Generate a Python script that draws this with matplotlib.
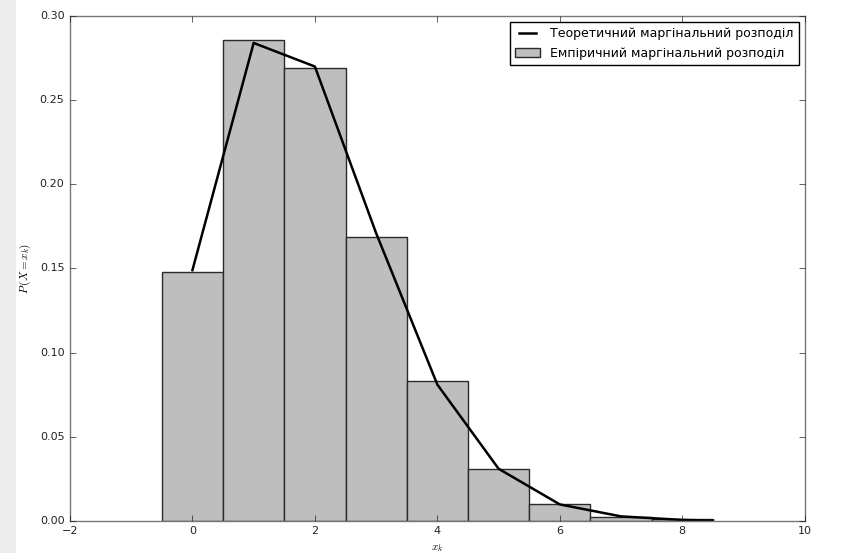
import matplotlib
matplotlib.use("Agg")
import matplotlib.pyplot as plt
from matplotlib.patches import Rectangle

plt.style.use('classic')

# емпіричний розподіл (гістограма)
emp_x = [0, 1, 2, 3, 4, 5, 6, 7, 8]
emp_p = [0.148, 0.286, 0.269, 0.169, 0.083, 0.031, 0.010, 0.0025, 0.001]

# теоретичний розподіл
theor_x = [0, 1, 2, 3, 4, 5, 6, 7, 8, 8.5]
theor_p = [0.149, 0.284, 0.270, 0.171, 0.081, 0.031, 0.0098, 0.0027, 0.0006, 0.0002]

fig = plt.figure(figsize=(8.48, 5.53), dpi=100, facecolor='white')
# сіра смуга зліва, як на скріншоті
fig.patches.append(Rectangle((0, 0), 16 / 848, 1, transform=fig.transFigure,
                             facecolor='#ececec', edgecolor='none', zorder=0))
ax = fig.add_axes([0.0825, 0.058, 0.8665, 0.913])

ax.bar(emp_x, emp_p, width=1.0, align='center', color='#bebebe',
       edgecolor='#2a2a2a', linewidth=1.0,
       label='Емпіричний маргінальний розподіл')
ax.plot(theor_x, theor_p, color='black', linewidth=1.8,
        label='Теоретичний маргінальний розподіл')

ax.set_xlim(-2, 10)
ax.set_ylim(0, 0.30)
ax.set_xticks([-2, 0, 2, 4, 6, 8, 10])
ax.set_yticks([0.00, 0.05, 0.10, 0.15, 0.20, 0.25, 0.30])
ax.set_yticklabels(['0.00', '0.05', '0.10', '0.15', '0.20', '0.25', '0.30'])
ax.tick_params(labelsize=8, colors='#222222')
for s in ax.spines.values():
    s.set_color('#777777')

ax.set_xlabel('$x_k$', fontsize=8)
ax.set_ylabel('$P\\,(X=x_k)$', fontsize=8)

ax.legend(loc='upper right', fontsize=9, handlelength=2.0,
          frameon=True, borderpad=0.4)

fig.savefig('out.png', dpi=100, facecolor=fig.get_facecolor())
